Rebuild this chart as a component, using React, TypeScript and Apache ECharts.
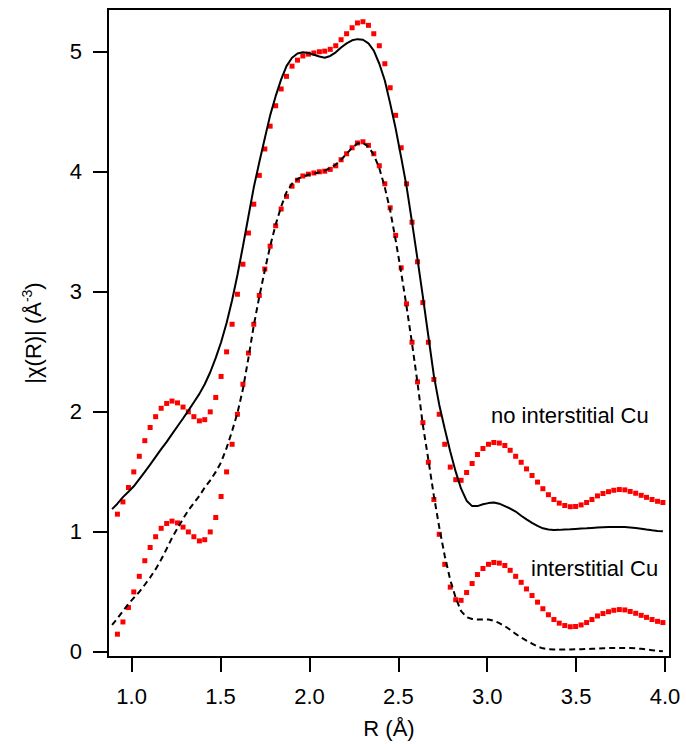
import React, { useEffect, useRef } from 'react';
import * as echarts from 'echarts';

// R grid (Å)
const R = [0.890,0.920,0.951,0.982,1.012,1.043,1.074,1.104,1.135,1.166,1.197,1.227,1.258,1.289,1.319,1.350,1.381,1.411,1.442,1.473,1.503,1.534,1.565,1.595,1.626,1.657,1.687,1.718,1.749,1.779,1.810,1.841,1.871,1.902,1.933,1.963,1.994,2.025,2.056,2.086,2.117,2.148,2.178,2.209,2.240,2.270,2.301,2.332,2.362,2.393,2.424,2.454,2.485,2.516,2.546,2.577,2.608,2.638,2.669,2.700,2.730,2.761,2.792,2.823,2.853,2.884,2.915,2.945,2.976,3.007,3.037,3.068,3.099,3.129,3.160,3.191,3.221,3.252,3.283,3.313,3.344,3.375,3.405,3.436,3.467,3.497,3.528,3.559,3.589,3.620,3.651,3.682,3.712,3.743,3.774,3.804,3.835,3.866,3.896,3.927,3.958,3.988];

// measured |chi(R)| (starts at second R point)
const measured = [0.148,0.25,0.37,0.50,0.63,0.76,0.87,0.96,1.03,1.07,1.09,1.075,1.04,1.00,0.96,0.925,0.935,1.00,1.12,1.295,1.50,1.73,1.98,2.23,2.49,2.73,2.97,3.19,3.38,3.55,3.69,3.795,3.88,3.93,3.965,3.98,3.99,4.00,4.005,4.02,4.05,4.10,4.15,4.20,4.24,4.25,4.22,4.15,4.05,3.90,3.70,3.47,3.20,2.90,2.58,2.25,1.91,1.58,1.27,0.98,0.73,0.54,0.435,0.43,0.495,0.57,0.645,0.695,0.73,0.745,0.74,0.72,0.68,0.63,0.58,0.525,0.47,0.415,0.36,0.31,0.27,0.24,0.22,0.21,0.212,0.225,0.245,0.27,0.30,0.32,0.335,0.347,0.353,0.35,0.337,0.322,0.305,0.288,0.27,0.255,0.245];

// model without interstitial Cu
const fitNoInterstitial = [0.19,0.235,0.29,0.335,0.38,0.44,0.50,0.56,0.625,0.69,0.75,0.815,0.88,0.945,1.01,1.08,1.15,1.23,1.33,1.45,1.58,1.74,1.93,2.14,2.38,2.63,2.87,3.08,3.28,3.47,3.63,3.77,3.88,3.95,3.985,3.995,3.99,3.975,3.96,3.95,3.965,3.995,4.035,4.07,4.095,4.105,4.10,4.07,4.01,3.90,3.76,3.57,3.36,3.12,2.88,2.58,2.27,1.96,1.63,1.30,1.06,0.86,0.67,0.50,0.36,0.26,0.215,0.215,0.23,0.24,0.245,0.235,0.215,0.195,0.17,0.135,0.105,0.075,0.05,0.03,0.02,0.015,0.017,0.02,0.022,0.025,0.028,0.03,0.033,0.036,0.038,0.04,0.04,0.04,0.04,0.037,0.033,0.027,0.02,0.013,0.008,0.005];

// model with interstitial Cu
const fitInterstitial = [0.225,0.28,0.34,0.40,0.45,0.50,0.56,0.62,0.69,0.77,0.86,0.95,1.03,1.11,1.18,1.24,1.30,1.37,1.43,1.50,1.58,1.70,1.84,1.99,2.19,2.45,2.72,2.96,3.18,3.38,3.56,3.71,3.83,3.90,3.94,3.96,3.975,3.985,3.995,4.01,4.03,4.06,4.10,4.15,4.20,4.235,4.24,4.21,4.14,4.03,3.87,3.68,3.43,3.16,2.88,2.57,2.24,1.89,1.60,1.30,1.04,0.80,0.60,0.45,0.34,0.29,0.275,0.27,0.27,0.27,0.26,0.24,0.215,0.185,0.15,0.12,0.095,0.07,0.045,0.03,0.022,0.02,0.02,0.02,0.021,0.022,0.023,0.024,0.026,0.028,0.03,0.032,0.033,0.033,0.033,0.032,0.03,0.026,0.02,0.015,0.01,0.006];

const upperOffset = 1;
const xTicks = [1.0, 1.5, 2.0, 2.5, 3.0, 3.5, 4.0];
const yTicks = [0, 1, 2, 3, 4, 5];
const labelUpper = 'no interstitial Cu';
const labelLower = 'interstitial Cu';

const FONT = '"Liberation Sans", Arial, sans-serif';

export default function App() {
  const ref = useRef<HTMLDivElement>(null);
  useEffect(() => {
    const chart = echarts.init(ref.current!, null, { renderer: 'svg' });
    const Rm = R.slice(1);
    const pair = (xs: number[], ys: number[], off: number) => ys.map((y, i) => [xs[i], y + off]);
    chart.setOption({
      animation: false,
      textStyle: { fontFamily: FONT },
      grid: { left: 108, right: 16, top: 9, bottom: 87, show: true, borderColor: '#000', borderWidth: 2, backgroundColor: 'transparent' },
      xAxis: {
        type: 'value', min: 0.867, max: 4.028,
        splitLine: { show: false },
        axisLine: { show: true, onZero: false, lineStyle: { color: '#000', width: 2 } },
        axisTick: { show: true, length: 15, lineStyle: { color: '#000', width: 2 }, customValues: xTicks },
        axisLabel: { customValues: xTicks, formatter: (v: number) => v.toFixed(1), fontSize: 22, color: '#000', margin: 28, fontFamily: FONT },
        name: 'R (Å)', nameLocation: 'middle', nameGap: 60,
        nameTextStyle: { fontSize: 22, color: '#000', fontFamily: FONT },
      },
      yAxis: {
        type: 'value', min: -0.042, max: 5.356,
        splitLine: { show: false },
        axisLine: { show: true, onZero: false, lineStyle: { color: '#000', width: 2 } },
        axisTick: { show: true, length: 15, lineStyle: { color: '#000', width: 2 }, customValues: yTicks },
        axisLabel: { customValues: yTicks, formatter: (v: number) => String(Math.round(v)), fontSize: 22, color: '#000', margin: 26, fontFamily: FONT },
        name: '|χ(R)| (Å{sup|-3})', nameLocation: 'middle', nameGap: 62, nameRotate: 90,
        nameTextStyle: {
          fontSize: 22, color: '#000', fontFamily: FONT,
          rich: { sup: { fontSize: 14, color: '#000', fontFamily: FONT, verticalAlign: 'top', padding: [0, 0, 12, 0] } },
        },
      },
      graphic: [
        { type: 'text', x: 491, y: 415, style: { text: labelUpper, fontSize: 22, fontFamily: FONT, fill: '#000', align: 'left', verticalAlign: 'middle' } },
        { type: 'text', x: 531, y: 568, style: { text: labelLower, fontSize: 22, fontFamily: FONT, fill: '#000', align: 'left', verticalAlign: 'middle' } },
      ],
      series: [
        { type: 'scatter', data: pair(Rm, measured, upperOffset), symbol: 'rect', symbolSize: 5, itemStyle: { color: '#ff0000', opacity: 1 }, silent: true, z: 2 },
        { type: 'scatter', data: pair(Rm, measured, 0), symbol: 'rect', symbolSize: 5, itemStyle: { color: '#ff0000', opacity: 1 }, silent: true, z: 2 },
        { type: 'line', data: pair(R, fitNoInterstitial, upperOffset), symbol: 'none', showSymbol: false, lineStyle: { color: '#000', width: 2 }, silent: true, z: 3 },
        { type: 'line', data: pair(R, fitInterstitial, 0), symbol: 'none', showSymbol: false, lineStyle: { color: '#000', width: 2, type: [6, 4] }, silent: true, z: 3 },
      ],
    });
    return () => chart.dispose();
  }, []);
  return <div ref={ref} style={{ position: 'absolute', left: 0, top: 0, width: 686, height: 744 }} />;
}
